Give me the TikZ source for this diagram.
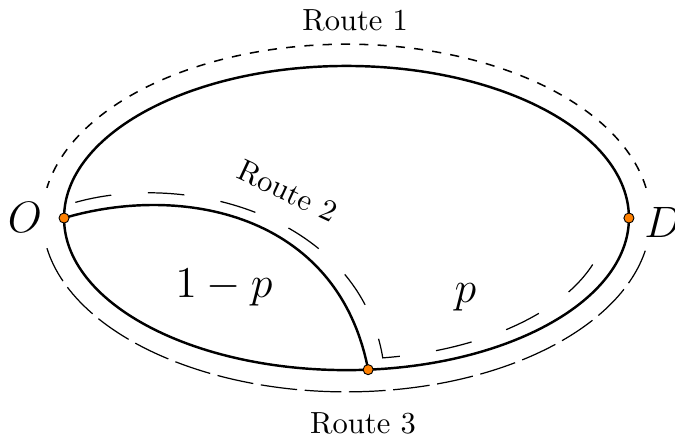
\documentclass[tikz,border=0pt]{standalone}
\usepackage{amsmath,amssymb}
\usepackage{tikz}
\definecolor{dotorange}{RGB}{255,128,0}

\begin{document}
\begin{tikzpicture}[every node/.style={font=\normalsize},
  route/.style={thick, black},
  dot/.style={circle, draw=black, line width=0.3pt, fill=dotorange, inner sep=0pt, minimum size=3.3pt},
  big/.style={font=\Large}]
  \useasboundingbox (-3.987,-2.520) rectangle (3.780,2.509);

  % Origin, destination and the meeting point on the lower arc
  \coordinate (O) at (-3.25,0);
  \coordinate (D) at (3.25,0);
  \coordinate (P) at (-85.6:3.25 and 1.75);

  % The two solid routes
  \draw[route] (0,0) ellipse[x radius=3.25, y radius=1.75];
  \draw[route] (O) .. controls (-1.9,0.4) and (-0.1,0.06) .. (P);

  % Route 1 (upper, short dashes)
  \draw[line width=0.5pt, dashed] (10:3.5 and 2) arc[start angle=10, end angle=170, x radius=3.5, y radius=2];
  % Route 3 (lower, long dashes)
  \draw[dash pattern=on 12pt off 2.5pt] (190:3.5 and 2) arc[start angle=190, end angle=350, x radius=3.5, y radius=2];
  % Route 2 (through the inner curve, then along the bottom)
  \coordinate (r2start) at (-3.12,0.18);
  \coordinate (r2corner) at (-82:3 and 1.625);
  \draw[dash pattern=on 12pt off 12pt] (r2start) .. controls (-1.8,0.55) and (0.15,0.0) .. (r2corner)
    arc[start angle=-82, end angle=-13, x radius=3, y radius=1.625];

  % Route names
  \node (route1) at (0.10,2.27) {Route 1};
  \node[rotate=-25] (route2) at (-0.68,0.31) {Route 2};
  \node (route3) at (0.19,-2.36) {Route 3};

  % Shares of the flow
  \node[big, anchor=base] (share2) at (-1.41,-0.92) {$1-p$};
  \node[big, anchor=base] (share3) at (1.37,-0.97) {$p$};

  % End points
  \node[dot] (o) at (O) {};
  \node[dot] (d) at (D) {};
  \node[dot] (p) at (P) {};
  \node[big] (labelO) at (-3.70,0.01) {$O$};
  \node[big] (labelD) at (3.64,-0.05) {$D$};
\end{tikzpicture}
\end{document}
